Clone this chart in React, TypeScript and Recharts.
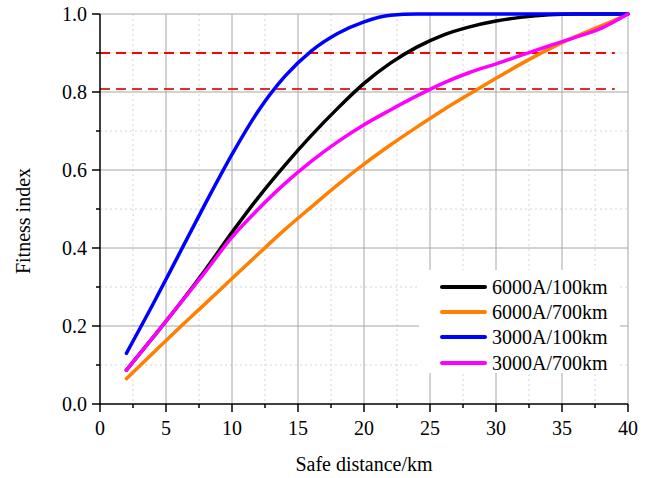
import {
  LineChart,
  Line,
  XAxis,
  YAxis,
  CartesianGrid,
  ReferenceLine,
  Legend,
} from "recharts";

const distance = [2, 4, 6, 8, 10, 12, 14, 16, 18, 20, 22, 24, 26, 28, 30, 32, 34, 36, 38, 40];

const black100 = [0.087, 0.17, 0.255, 0.345, 0.44, 0.53, 0.612, 0.688, 0.758, 0.822, 0.874, 0.915, 0.946, 0.967, 0.982, 0.992, 0.998, 1.0, 1.0, 1.0];
const orange700 = [0.065, 0.13, 0.195, 0.258, 0.322, 0.385, 0.447, 0.505, 0.562, 0.615, 0.664, 0.71, 0.754, 0.795, 0.835, 0.874, 0.91, 0.942, 0.97, 1.0];
const blue100 = [0.13, 0.255, 0.385, 0.515, 0.64, 0.752, 0.84, 0.905, 0.95, 0.98, 0.997, 1.0, 1.0, 1.0, 1.0, 1.0, 1.0, 1.0, 1.0, 1.0];
const magenta700 = [0.087, 0.17, 0.255, 0.34, 0.428, 0.5, 0.565, 0.622, 0.672, 0.716, 0.754, 0.79, 0.823, 0.85, 0.872, 0.895, 0.918, 0.94, 0.964, 1.0];

const seriesNames = ["6000A/100km", "6000A/700km", "3000A/100km", "3000A/700km"];
const seriesColors = ["#000000", "#ff8000", "#0000ff", "#ff00ff"];

const xTicks = [0, 2.5, 5, 7.5, 10, 12.5, 15, 17.5, 20, 22.5, 25, 27.5, 30, 32.5, 35, 37.5, 40];
const yTicks = [0, 0.1, 0.2, 0.3, 0.4, 0.5, 0.6, 0.7, 0.8, 0.9, 1.0];
const xMajorGrid = [5, 10, 15, 20, 25, 30, 35, 40];
const xMinorGrid = [2.5, 7.5, 12.5, 17.5, 22.5, 27.5, 32.5, 37.5];
const yMajorGrid = [0.2, 0.4, 0.6, 0.8, 1.0];
const yMinorGrid = [0.1, 0.3, 0.5, 0.7, 0.9];

// threshold lines (value, end of dash on x)
const thresholds = [
  { y: 0.9, xEnd: 39, color: "#ff0000" },
  { y: 0.808, xEnd: 39, color: "#d93030" },
];

const data = distance.map((d, i) => ({
  d,
  s0: black100[i],
  s1: orange700[i],
  s2: blue100[i],
  s3: magenta700[i],
}));

const FONT = "'Liberation Serif', 'Times New Roman', serif";

const XTick = (props: any) => {
  const { x, y, payload } = props;
  const major = payload.value % 5 === 0;
  return (
    <g>
      <line x1={x} y1={y} x2={x} y2={y + (major ? 8 : 4)} stroke="#000" strokeWidth={1.5} />
      {major && (
        <text x={x} y={y + 31} textAnchor="middle" fontSize={20} fontFamily={FONT} fill="#000">
          {payload.value}
        </text>
      )}
    </g>
  );
};

const YTick = (props: any) => {
  const { x, y, payload } = props;
  const major = Math.round(payload.value * 10) % 2 === 0;
  return (
    <g>
      <line x1={x} y1={y} x2={x - (major ? 8 : 4)} y2={y} stroke="#000" strokeWidth={1.5} />
      {major && (
        <text x={x - 13} y={y} dy="0.35em" textAnchor="end" fontSize={20} fontFamily={FONT} fill="#000">
          {payload.value.toFixed(1)}
        </text>
      )}
    </g>
  );
};

const LegendBox = () => (
  <div
    style={{
      background: "#fff",
      width: 201,
      height: 103,
      paddingTop: 4,
      boxSizing: "border-box",
      fontFamily: FONT,
      fontSize: 20,
    }}
  >
    {seriesNames.map((n, i) => (
      <div key={n} style={{ display: "flex", alignItems: "center", height: 25.3, marginLeft: 21 }}>
        <div style={{ width: 47, height: 4, background: seriesColors[i], borderRadius: 2 }} />
        <span style={{ marginLeft: 5, color: "#000", lineHeight: "20px" }}>{n}</span>
      </div>
    ))}
  </div>
);

export default function App() {
  return (
    <div style={{ position: "absolute", left: 0, top: 0, background: "#fff" }}>
      <LineChart
        width={654}
        height={478}
        data={data}
        margin={{ top: 14, right: 26, left: 0, bottom: 0 }}
        style={{ fontFamily: FONT }}
      >
        <CartesianGrid
          horizontalValues={yMinorGrid}
          verticalValues={xMinorGrid}
          stroke="#d4d4d4"
          strokeDasharray="2 3"
        />
        <CartesianGrid
          horizontalValues={yMajorGrid}
          verticalValues={xMajorGrid}
          stroke="#a6a6a6"
        />
        <XAxis
          dataKey="d"
          type="number"
          domain={[0, 40]}
          ticks={xTicks}
          interval={0}
          height={74}
          tickSize={0}
          tickMargin={0}
          axisLine={{ stroke: "#000", strokeWidth: 1.5 }}
          tick={(p: any) => <XTick {...p} />}
          label={{
            content: () => (
              <text x={364} y={471} textAnchor="middle" fontSize={20} fontFamily={FONT} fill="#000">
                Safe distance/km
              </text>
            ),
          }}
        />
        <YAxis
          type="number"
          domain={[0, 1]}
          ticks={yTicks}
          interval={0}
          width={100}
          tickSize={0}
          tickMargin={0}
          axisLine={{ stroke: "#000", strokeWidth: 1.5 }}
          tick={(p: any) => <YTick {...p} />}
          label={{
            content: () => (
              <text
                x={30}
                y={221}
                transform="rotate(-90 30 221)"
                textAnchor="middle"
                fontSize={20}
                fontFamily={FONT}
                fill="#000"
              >
                Fitness index
              </text>
            ),
          }}
        />
        {thresholds.map((t) => (
          <ReferenceLine
            key={t.y}
            segment={[
              { x: 0, y: t.y },
              { x: t.xEnd, y: t.y },
            ]}
            stroke={t.color}
            strokeWidth={2}
            strokeDasharray="10 6"
          />
        ))}
        {["s0", "s1", "s2", "s3"].map((k, i) => (
          <Line
            key={k}
            type="monotone"
            dataKey={k}
            name={seriesNames[i]}
            stroke={seriesColors[i]}
            strokeWidth={3.5}
            strokeLinecap="round"
            dot={false}
            isAnimationActive={false}
          />
        ))}
        <Legend
          layout="vertical"
          align="center"
          verticalAlign="middle"
          content={() => <LegendBox />}
          wrapperStyle={{ left: 419, top: 270, width: 201, height: 103 }}
        />
      </LineChart>
    </div>
  );
}
